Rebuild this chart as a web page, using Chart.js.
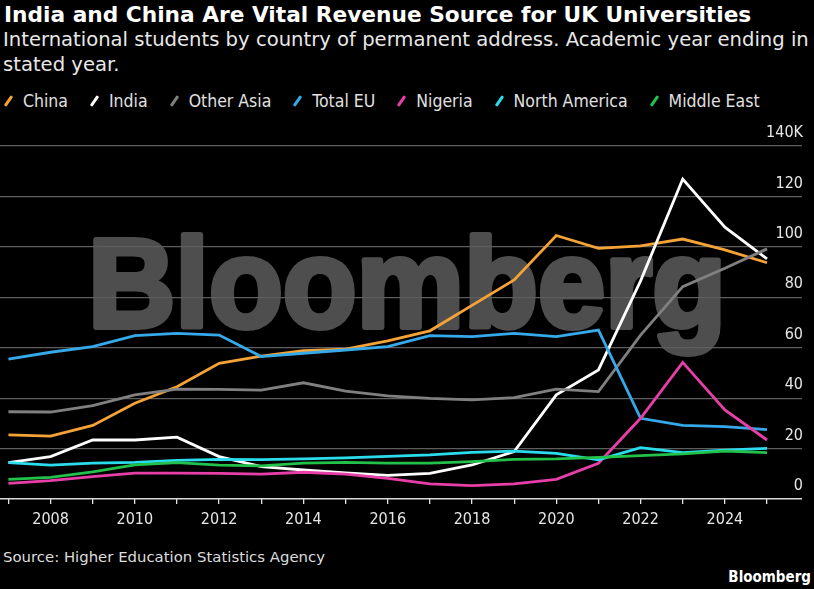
<!DOCTYPE html>
<html>
<head>
<meta charset="utf-8">
<script src="https://cdn.jsdelivr.net/npm/chart.js@4.4.1/dist/chart.umd.min.js"></script>
<style>
  html, body { margin: 0; padding: 0; background: #000; }
  body { width: 814px; height: 589px; position: relative; overflow: hidden; font-family: "DejaVu Sans", sans-serif; color: #fff; }
  #title { position: absolute; left: 4px; top: 2px; font-size: 21.7px; font-weight: bold; white-space: nowrap; }
  #subtitle { position: absolute; left: 3px; top: 27px; font-size: 19.6px; line-height: 25px; color: #e8e8e8; width: 812px; }
  #legend { position: absolute; left: 3px; top: 91px; display: flex; font-family: "DejaVu Sans Condensed", "DejaVu Sans", sans-serif; font-size: 17.5px; color: #e0e0e0; white-space: nowrap; }
  .item { display: flex; align-items: center; margin-right: 21px; }
  .mark { width: 10px; height: 20px; margin-right: 10px; position: relative; }
  .mark i { position: absolute; left: 4px; top: 4px; width: 3px; height: 12px; transform: rotate(35deg); border-radius: 1px; }
  #wrap { position: absolute; left: 0; top: 120px; width: 814px; height: 420px; }
  #source { position: absolute; left: 3px; top: 548px; font-size: 14.9px; color: #ddd; }
  #brand { position: absolute; right: 3px; top: 568px; font-size: 15px; font-weight: bold; color: #fff; font-family: "DejaVu Sans Condensed", "DejaVu Sans", sans-serif; }
</style>
</head>
<body>
<div id="title">India and China Are Vital Revenue Source for UK Universities</div>
<div id="subtitle">International students by country of permanent address. Academic year ending in stated year.</div>
<div id="legend"></div>
<div id="wrap"><canvas id="chart"></canvas></div>
<div id="source">Source: Higher Education Statistics Agency</div>
<div id="brand">Bloomberg</div>
<script>
// academic year ending in
const years = [2007, 2008, 2009, 2010, 2011, 2012, 2013, 2014, 2015, 2016, 2017, 2018, 2019, 2020, 2021, 2022, 2023, 2024, 2025];

// students, thousands
const china        = [25.4, 24.9, 29.2, 38.0, 44.5, 53.8, 56.7, 58.8, 59.4, 62.7, 66.7, 76.8, 86.9, 104.5, 99.4, 100.4, 103.1, 98.8, 93.7];
const india        = [14.4, 16.8, 23.4, 23.4, 24.5, 16.8, 12.8, 11.5, 10.4, 9.4, 10.2, 13.5, 18.8, 41.3, 51.2, 86.5, 126.9, 107.8, 95.2];
const otherAsia    = [34.6, 34.5, 37.0, 41.3, 43.6, 43.5, 43.2, 46.1, 42.8, 40.9, 39.9, 39.3, 40.2, 43.6, 42.6, 65.0, 84.2, 91.5, 99.2];
const totalEU      = [55.5, 58.2, 60.4, 64.8, 65.7, 65.0, 56.5, 57.8, 59.1, 60.4, 64.8, 64.4, 65.7, 64.4, 67.0, 32.0, 29.2, 28.7, 27.5];
const nigeria      = [6.2, 7.3, 8.9, 10.3, 10.3, 10.2, 9.9, 10.6, 9.9, 8.2, 6.0, 5.3, 6.0, 7.8, 14.2, 32.0, 54.2, 35.3, 23.4];
const northAmerica = [14.4, 13.4, 14.2, 14.5, 15.3, 15.7, 15.6, 15.9, 16.3, 16.9, 17.5, 18.5, 19.0, 18.1, 15.5, 20.4, 18.4, 19.4, 20.1];
const middleEast   = [7.8, 8.6, 10.8, 13.5, 14.4, 13.4, 13.1, 14.2, 14.5, 14.2, 14.2, 14.8, 15.7, 15.9, 16.5, 17.2, 17.9, 19.0, 18.4];

const seriesNames  = ['China', 'India', 'Other Asia', 'Total EU', 'Nigeria', 'North America', 'Middle East'];
const seriesValues = [china, india, otherAsia, totalEU, nigeria, northAmerica, middleEast];
const seriesColors = ['#f5a236', '#ffffff', '#808080', '#35a9ea', '#e63fa8', '#2bdcec', '#22c14a'];

const yTicks = [0, 20, 40, 60, 80, 100, 120, 140];

// legend
const legend = document.getElementById('legend');
seriesNames.forEach((name, i) => {
    const item = document.createElement('div');
    item.className = 'item';
    item.innerHTML = '<span class="mark"><i style="background:' + seriesColors[i] + '"></i></span><span>' + name + '</span>';
    legend.appendChild(item);
});

// big grey watermark behind the grid
const watermark = {
    id: 'watermark',
    beforeDraw(chart) {
        const ctx = chart.ctx;
        ctx.save();
        ctx.fillStyle = '#4e4e4e';
        ctx.strokeStyle = '#4e4e4e';
        ctx.lineWidth = 6;
        ctx.lineJoin = 'round';
        ctx.font = 'bold 127px "Liberation Sans", Arial, sans-serif';
        ctx.textBaseline = 'alphabetic';
        ctx.textAlign = 'left';
        ctx.fillText('Bloomberg', 88, 327 - 120, 638);
        ctx.strokeText('Bloomberg', 88, 327 - 120, 638);
        ctx.restore();
    }
};

const axisFont = { family: '"DejaVu Sans Condensed", "DejaVu Sans", sans-serif', size: 16 };

new Chart(document.getElementById('chart'), {
    type: 'line',
    data: {
        labels: years,
        datasets: seriesNames.map((name, i) => ({
            label: name,
            data: seriesValues[i],
            borderColor: seriesColors[i],
            backgroundColor: seriesColors[i],
            borderWidth: 2.8,
            pointRadius: 0,
            tension: 0
        })).reverse()
    },
    options: {
        responsive: true,
        maintainAspectRatio: false,
        animation: false,
        layout: {
            padding: { top: 26, left: 0, right: 0, bottom: 0 }
        },
        plugins: {
            legend: { display: false },
            tooltip: { enabled: false }
        },
        scales: {
            x: {
                type: 'linear',
                min: 2006.8,
                max: 2025.83,
                afterFit: (scale) => { scale.height = 41; },
                grid: {
                    drawOnChartArea: false,
                    drawTicks: true,
                    tickLength: 5,
                    color: '#e0e0e0',
                    lineWidth: 1.3
                },
                border: { display: false },
                ticks: {
                    stepSize: 1,
                    includeBounds: false,
                    autoSkip: false,
                    maxRotation: 0,
                    padding: 6,
                    color: '#e6e6e6',
                    font: axisFont,
                    callback: (v) => (v % 2 === 0 ? String(v) : '')
                }
            },
            y: {
                position: 'right',
                min: 0,
                max: 140,
                afterFit: (scale) => { scale.width = 12; },
                afterBuildTicks: (scale) => { scale.ticks = yTicks.map(v => ({ value: v })); },
                grid: {
                    drawTicks: false,
                    color: (c) => (c.tick && c.tick.value === 0 ? '#d8d8d8' : '#5e5e5e'),
                    lineWidth: (c) => (c.tick && c.tick.value === 0 ? 1.5 : 1.2)
                },
                border: { display: false },
                ticks: {
                    mirror: true,
                    padding: 1,
                    labelOffset: -13,
                    color: '#e6e6e6',
                    font: axisFont,
                    callback: (v) => (v === 140 ? '140K' : String(v))
                }
            }
        }
    },
    plugins: [watermark]
});
</script>
</body>
</html>
